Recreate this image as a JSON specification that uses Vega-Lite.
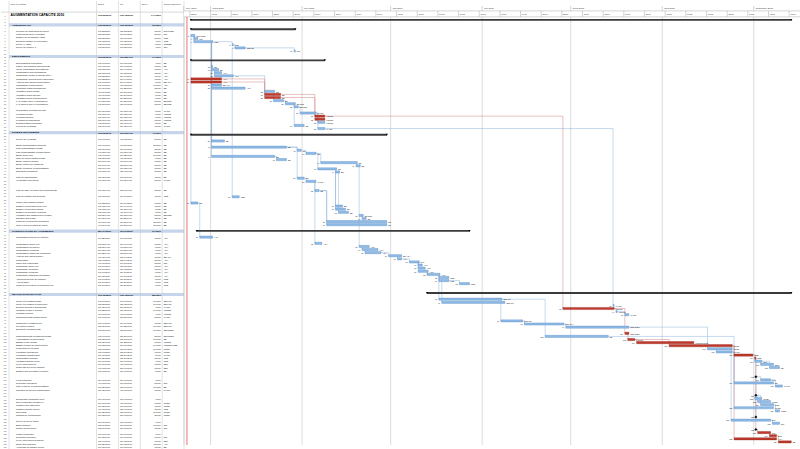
{
 "$schema": "https://vega.github.io/schema/vega-lite/v6.json",
 "padding": 0,
 "spacing": 0,
 "bounds": "flush",
 "background": "white",
 "config": {
  "view": {"stroke": null},
  "font": "Liberation Sans",
  "locale": {"time": {"dateTime": "%A %e %B %Y à %X", "date": "%d/%m/%Y", "time": "%H:%M:%S", "periods": ["AM", "PM"], "days": ["dimanche", "lundi", "mardi", "mercredi", "jeudi", "vendredi", "samedi"], "shortDays": ["Dim", "Lun", "Mar", "Mer", "Jeu", "Ven", "Sam"], "months": ["janvier", "février", "mars", "avril", "mai", "juin", "juillet", "août", "septembre", "octobre", "novembre", "décembre"], "shortMonths": ["janv.", "févr.", "mars", "avr.", "mai", "juin", "juil.", "août", "sept.", "oct.", "nov.", "déc."]}}
 },
 "datasets": {
  "hl": [{"v": -2.92}, {"v": -1}],
  "cols": [{"c": "name"}, {"c": "start"}, {"c": "end"}, {"c": "dur"}, {"c": "res"}, {"c": "edge"}],
  "hdr": [{"c": "name", "t": "Nom de la tâche"}, {"c": "start", "t": "Début"}, {"c": "end", "t": "Fin"}, {"c": "dur", "t": "Durée"}, {"c": "res", "t": "Noms ressources"}],
  "months": [{"m": "2010/02/20", "t": "févr. 2010"}, {"m": "2010/03/01", "t": "mars 2010"}, {"m": "2010/04/01", "t": "avril 2010"}, {"m": "2010/05/01", "t": "mai 2010"}, {"m": "2010/06/01", "t": "juin 2010"}, {"m": "2010/07/01", "t": "juillet 2010"}, {"m": "2010/08/01", "t": "août 2010"}, {"m": "2010/09/01", "t": "septembre 2010"}],
  "weeks": [{"w": "2010/02/22"}, {"w": "2010/03/01"}, {"w": "2010/03/08"}, {"w": "2010/03/15"}, {"w": "2010/03/22"}, {"w": "2010/03/29"}, {"w": "2010/04/05"}, {"w": "2010/04/12"}, {"w": "2010/04/19"}, {"w": "2010/04/26"}, {"w": "2010/05/03"}, {"w": "2010/05/10"}, {"w": "2010/05/17"}, {"w": "2010/05/24"}, {"w": "2010/05/31"}, {"w": "2010/06/07"}, {"w": "2010/06/14"}, {"w": "2010/06/21"}, {"w": "2010/06/28"}, {"w": "2010/07/05"}, {"w": "2010/07/12"}, {"w": "2010/07/19"}, {"w": "2010/07/26"}, {"w": "2010/08/02"}, {"w": "2010/08/09"}, {"w": "2010/08/16"}, {"w": "2010/08/23"}, {"w": "2010/08/30"}, {"w": "2010/09/06"}, {"w": "2010/09/13"}],
  "tasks": [
   {"r": 0, "k": "t", "n": "AUGMENTATION CAPACITE 2010", "s": "2010/02/22 08:00", "e": "2010/09/13 17:00", "d": "147 jours", "res": ""},
   {"r": 1, "k": "b"}, {"r": 2, "k": "b"},
   {"r": 3, "k": "h", "n": "ADMINISTRATIF", "s": "2010/02/22 08:00", "e": "2010/03/29 17:00", "d": "26 jours", "res": ""},
   {"r": 4, "k": "b"},
   {"r": 5, "k": "n", "n": "Réunion de lancement du projet", "s": "2010/02/22 08:00", "e": "2010/02/23 17:00", "d": "2 jours", "res": "DIR;PROD"},
   {"r": 6, "k": "n", "n": "Planning directeur et budget", "s": "2010/02/23 08:00", "e": "2010/02/24 17:00", "d": "2 jours", "res": "DIR", "p": 5},
   {"r": 7, "k": "n", "n": "Dossier de déclaration ICPE", "s": "2010/02/23 08:00", "e": "2010/03/01 17:00", "d": "5 jours", "res": "QSE", "p": 5},
   {"r": 8, "k": "n", "n": "Dépôt du dossier en préfecture", "s": "2010/03/08 08:00", "e": "2010/03/08 17:00", "d": "1 jour", "res": "QSE", "p": 7},
   {"r": 9, "k": "n", "n": "Revue HAZOP", "s": "2010/03/09 08:00", "e": "2010/03/12 17:00", "d": "4 jours", "res": "QSE;BE", "p": 8},
   {"r": 10, "k": "n", "n": "Revue de projet n°1", "s": "2010/03/29 08:00", "e": "2010/03/29 17:00", "d": "1 jour", "res": "DIR", "p": 9},
   {"r": 11, "k": "b"}, {"r": 12, "k": "b"},
   {"r": 13, "k": "h", "n": "EQUIPEMENTS", "s": "2010/02/22 08:00", "e": "2010/04/08 17:00", "d": "34 jours", "res": ""},
   {"r": 14, "k": "b"},
   {"r": 15, "k": "n", "n": "Spécifications techniques", "s": "2010/03/01 08:00", "e": "2010/03/01 17:00", "d": "1 jour", "res": "BE", "p": 7},
   {"r": 16, "k": "n", "n": "Cahier des charges équipements", "s": "2010/03/01 08:00", "e": "2010/03/03 17:00", "d": "3 jours", "res": "BE", "p": 7},
   {"r": 17, "k": "n", "n": "Lot de consultation fournisseurs", "s": "2010/03/02 08:00", "e": "2010/03/04 17:00", "d": "3 jours", "res": "ACH", "p": 16},
   {"r": 18, "k": "n", "n": "Consultation des fournisseurs", "s": "2010/03/02 08:00", "e": "2010/03/08 17:00", "d": "5 jours", "res": "ACH", "p": 17},
   {"r": 19, "k": "c", "n": "Commande presse à injecter 800 t", "s": "2010/02/22 08:00", "e": "2010/03/04 17:00", "d": "9 jours", "res": "ACH"},
   {"r": 20, "k": "c", "n": "Commande moules multi-empreintes", "s": "2010/02/22 08:00", "e": "2010/03/04 17:00", "d": "9 jours", "res": "ACH"},
   {"r": 21, "k": "n", "n": "Analyse des offres périphériques", "s": "2010/03/01 08:00", "e": "2010/03/04 17:00", "d": "4 jours", "res": "BE;ACH", "p": 16},
   {"r": 22, "k": "n", "n": "Commande périphériques", "s": "2010/03/01 08:00", "e": "2010/03/12 17:00", "d": "10 jours", "res": "ACH", "p": 16},
   {"r": 23, "k": "n", "n": "Réception plans fournisseurs", "s": "2010/03/19 08:00", "e": "2010/03/22 17:00", "d": "2 jours", "res": "BE", "p": 18},
   {"r": 24, "k": "c", "n": "Validation plans presse", "s": "2010/03/19 08:00", "e": "2010/03/24 17:00", "d": "4 jours", "res": "BE", "p": 19},
   {"r": 25, "k": "c", "n": "Validation plans moules", "s": "2010/03/19 08:00", "e": "2010/03/24 17:00", "d": "4 jours", "res": "BE", "p": 20},
   {"r": 26, "k": "n", "n": "Validation plans périphériques", "s": "2010/03/22 08:00", "e": "2010/03/25 17:00", "d": "4 jours", "res": "BE", "p": 23},
   {"r": 27, "k": "n", "n": "FAT presse chez le fournisseur", "s": "2010/03/26 08:00", "e": "2010/03/29 17:00", "d": "2 jours", "res": "BE;QSE", "p": 26},
   {"r": 28, "k": "n", "n": "FAT moules chez le fournisseur", "s": "2010/03/29 08:00", "e": "2010/03/30 17:00", "d": "2 jours", "res": "BE;QSE", "p": 27},
   {"r": 29, "k": "b"},
   {"r": 30, "k": "n", "n": "Préparation réception sur site", "s": "2010/03/31 08:00", "e": "2010/04/05 17:00", "d": "4 jours", "res": "MAINT", "p": 28},
   {"r": 31, "k": "c", "n": "Livraison presse", "s": "2010/04/05 08:00", "e": "2010/04/08 17:00", "d": "4 jours", "res": "FOURN", "p": 24},
   {"r": 32, "k": "c", "n": "Livraison moules", "s": "2010/04/05 08:00", "e": "2010/04/08 17:00", "d": "4 jours", "res": "FOURN", "p": 25},
   {"r": 33, "k": "n", "n": "Livraison périphériques", "s": "2010/04/06 08:00", "e": "2010/04/08 17:00", "d": "3 jours", "res": "FOURN", "p": 30},
   {"r": 34, "k": "n", "n": "Documentation technique", "s": "2010/03/29 08:00", "e": "2010/04/01 17:00", "d": "4 jours", "res": "BE", "p": 27},
   {"r": 35, "k": "n", "n": "Pièces de rechange", "s": "2010/04/06 08:00", "e": "2010/04/08 17:00", "d": "3 jours", "res": "MAINT", "p": 30},
   {"r": 36, "k": "b"},
   {"r": 37, "k": "h", "n": "ETUDES TECHNIQUES", "s": "2010/02/22 08:00", "e": "2010/04/29 17:00", "d": "49 jours", "res": ""},
   {"r": 38, "k": "b"},
   {"r": 39, "k": "n", "n": "Relevé de l'existant", "s": "2010/03/01 08:00", "e": "2010/03/05 17:00", "d": "5 jours", "res": "BE", "p": 7},
   {"r": 40, "k": "b"},
   {"r": 41, "k": "n", "n": "Etude d'implantation générale", "s": "2010/03/01 08:00", "e": "2010/03/26 17:00", "d": "20 jours", "res": "BE", "p": 7},
   {"r": 42, "k": "n", "n": "Plan d'implantation presse", "s": "2010/03/30 08:00", "e": "2010/03/31 17:00", "d": "2 jours", "res": "BE", "p": 41},
   {"r": 43, "k": "n", "n": "Plan d'implantation périphériques", "s": "2010/04/02 08:00", "e": "2010/04/05 17:00", "d": "2 jours", "res": "BE", "p": 42},
   {"r": 44, "k": "n", "n": "Etude génie civil", "s": "2010/03/01 08:00", "e": "2010/03/22 17:00", "d": "16 jours", "res": "BE", "p": 7},
   {"r": 45, "k": "n", "n": "Note de calcul massif presse", "s": "2010/03/23 08:00", "e": "2010/03/26 17:00", "d": "4 jours", "res": "BE", "p": 44},
   {"r": 46, "k": "n", "n": "Etude réseaux fluides", "s": "2010/04/07 08:00", "e": "2010/04/19 17:00", "d": "9 jours", "res": "BE", "p": 43},
   {"r": 47, "k": "n", "n": "Etude réseau air comprimé", "s": "2010/04/19 08:00", "e": "2010/04/20 17:00", "d": "2 jours", "res": "BE", "p": 46},
   {"r": 48, "k": "n", "n": "Etude électricité et automatisme", "s": "2010/04/06 08:00", "e": "2010/04/12 17:00", "d": "5 jours", "res": "BE", "p": 43},
   {"r": 49, "k": "n", "n": "Schémas électriques", "s": "2010/04/12 08:00", "e": "2010/04/13 17:00", "d": "2 jours", "res": "BE", "p": 48},
   {"r": 50, "k": "b"},
   {"r": 51, "k": "n", "n": "Plan de manutention", "s": "2010/03/30 08:00", "e": "2010/04/01 17:00", "d": "3 jours", "res": "BE", "p": 41},
   {"r": 52, "k": "n", "n": "Vérification des accès", "s": "2010/04/02 08:00", "e": "2010/04/05 17:00", "d": "2 jours", "res": "MAINT", "p": 51},
   {"r": 53, "k": "b"}, {"r": 54, "k": "b"},
   {"r": 55, "k": "n", "n": "Plan de mise en place des équipements", "s": "2010/04/05 08:00", "e": "2010/04/06 17:00", "d": "2 jours", "res": "BE", "p": 52},
   {"r": 56, "k": "b"},
   {"r": 57, "k": "n", "n": "Plan de gestion des déchets", "s": "2010/03/08 08:00", "e": "2010/03/10 17:00", "d": "3 jours", "res": "QSE", "p": 9},
   {"r": 58, "k": "b"},
   {"r": 59, "k": "n", "n": "Cahier des charges études", "s": "2010/02/22 08:00", "e": "2010/02/24 17:00", "d": "3 jours", "res": "BE", "p": 5},
   {"r": 60, "k": "n", "n": "Dossier d'exécution génie civil", "s": "2010/04/12 08:00", "e": "2010/04/14 17:00", "d": "3 jours", "res": "BE", "p": 49},
   {"r": 61, "k": "n", "n": "Dossier d'exécution fluides", "s": "2010/04/12 08:00", "e": "2010/04/15 17:00", "d": "4 jours", "res": "BE", "p": 49},
   {"r": 62, "k": "n", "n": "Dossier d'exécution électricité", "s": "2010/04/13 08:00", "e": "2010/04/16 17:00", "d": "4 jours", "res": "BE", "p": 49},
   {"r": 63, "k": "n", "n": "Validation des dossiers d'exécution", "s": "2010/04/20 08:00", "e": "2010/04/21 17:00", "d": "2 jours", "res": "BE;QSE", "p": 47},
   {"r": 64, "k": "n", "n": "Diffusion des plans", "s": "2010/04/21 08:00", "e": "2010/04/22 17:00", "d": "2 jours", "res": "BE", "p": 63},
   {"r": 65, "k": "n", "n": "Plans de récolement provisoires", "s": "2010/04/09 08:00", "e": "2010/04/29 17:00", "d": "15 jours", "res": "BE", "p": 55},
   {"r": 66, "k": "n", "n": "Mise à jour des notes de calcul", "s": "2010/04/09 08:00", "e": "2010/04/29 17:00", "d": "15 jours", "res": "BE", "p": 55},
   {"r": 67, "k": "b"},
   {"r": 68, "k": "h", "n": "CONSULTATIONS ET AGREMENTS", "s": "2010/02/24 08:00", "e": "2010/05/27 17:00", "d": "67 jours", "res": ""},
   {"r": 69, "k": "b"},
   {"r": 70, "k": "n", "n": "Consultation bureau de contrôle", "s": "2010/02/25 08:00", "e": "2010/03/01 17:00", "d": "3 jours", "res": "ACH", "p": 59},
   {"r": 71, "k": "b"},
   {"r": 72, "k": "n", "n": "Consultation génie civil", "s": "2010/04/05 08:00", "e": "2010/04/07 17:00", "d": "3 jours", "res": "ACH", "p": 52},
   {"r": 73, "k": "n", "n": "Consultation tuyauterie", "s": "2010/04/20 08:00", "e": "2010/04/23 17:00", "d": "4 jours", "res": "ACH", "p": 63},
   {"r": 74, "k": "n", "n": "Consultation électricité", "s": "2010/04/21 08:00", "e": "2010/04/26 17:00", "d": "4 jours", "res": "ACH", "p": 73},
   {"r": 75, "k": "n", "n": "Consultation charpente métallique", "s": "2010/04/22 08:00", "e": "2010/04/27 17:00", "d": "4 jours", "res": "ACH", "p": 74},
   {"r": 76, "k": "n", "n": "Analyse des offres travaux", "s": "2010/04/30 08:00", "e": "2010/05/04 17:00", "d": "3 jours", "res": "BE;ACH", "p": 75},
   {"r": 77, "k": "n", "n": "Négociation", "s": "2010/05/03 08:00", "e": "2010/05/04 17:00", "d": "2 jours", "res": "ACH", "p": 76},
   {"r": 78, "k": "n", "n": "Choix des entreprises", "s": "2010/05/07 08:00", "e": "2010/05/10 17:00", "d": "2 jours", "res": "DIR", "p": 77},
   {"r": 79, "k": "n", "n": "Commande génie civil", "s": "2010/05/10 08:00", "e": "2010/05/11 17:00", "d": "2 jours", "res": "ACH", "p": 78},
   {"r": 80, "k": "n", "n": "Commande tuyauterie", "s": "2010/05/10 08:00", "e": "2010/05/12 17:00", "d": "3 jours", "res": "ACH", "p": 78},
   {"r": 81, "k": "n", "n": "Commande électricité", "s": "2010/05/10 08:00", "e": "2010/05/13 17:00", "d": "4 jours", "res": "ACH", "p": 78},
   {"r": 82, "k": "n", "n": "Commande charpente métallique", "s": "2010/05/13 08:00", "e": "2010/05/17 17:00", "d": "3 jours", "res": "ACH", "p": 81},
   {"r": 83, "k": "n", "n": "Agrément bureau de contrôle", "s": "2010/05/17 08:00", "e": "2010/05/20 17:00", "d": "4 jours", "res": "QSE", "p": 82},
   {"r": 84, "k": "n", "n": "Avis CHSCT", "s": "2010/05/17 08:00", "e": "2010/05/20 17:00", "d": "4 jours", "res": "QSE", "p": 82},
   {"r": 85, "k": "n", "n": "Plans de prévention et permis de feu", "s": "2010/05/24 08:00", "e": "2010/05/27 17:00", "d": "4 jours", "res": "QSE", "p": 84},
   {"r": 86, "k": "b"}, {"r": 87, "k": "b"},
   {"r": 88, "k": "h", "n": "REALISATION TRAVAUX", "s": "2010/05/13 08:00", "e": "2010/09/13 17:00", "d": "88 jours", "res": ""},
   {"r": 89, "k": "b"},
   {"r": 90, "k": "n", "n": "Génie civil massif presse", "s": "2010/05/17 08:00", "e": "2010/06/07 17:00", "d": "16 jours", "res": "ENT GC", "p": 83},
   {"r": 91, "k": "n", "n": "Génie civil fosses et caniveaux", "s": "2010/05/18 08:00", "e": "2010/06/08 17:00", "d": "16 jours", "res": "ENT GC", "p": 84},
   {"r": 92, "k": "n", "n": "Dépose anciens équipements", "s": "2010/07/15 08:00", "e": "2010/07/15 17:00", "d": "1 jour", "res": "MAINT", "p": 35},
   {"r": 93, "k": "c", "n": "Montage presse à injecter", "s": "2010/06/28 08:00", "e": "2010/07/15 17:00", "d": "14 jours", "res": "FOURN", "p": 31},
   {"r": 94, "k": "n", "n": "Montage moules", "s": "2010/07/16 08:00", "e": "2010/07/16 17:00", "d": "1 jour", "res": "FOURN", "p": 93},
   {"r": 95, "k": "n", "n": "Raccordements périphériques", "s": "2010/07/19 08:00", "e": "2010/07/20 17:00", "d": "2 jours", "res": "MAINT", "p": 94},
   {"r": 96, "k": "b"},
   {"r": 97, "k": "n", "n": "Charpente et passerelles", "s": "2010/06/07 08:00", "e": "2010/06/14 17:00", "d": "6 jours", "res": "ENT CM", "p": 90},
   {"r": 98, "k": "n", "n": "Tuyauterie fluides", "s": "2010/06/15 08:00", "e": "2010/06/28 17:00", "d": "10 jours", "res": "ENT TUY", "p": 97},
   {"r": 99, "k": "n", "n": "Electricité courants forts", "s": "2010/06/29 08:00", "e": "2010/07/20 17:00", "d": "16 jours", "res": "ENT ELEC", "p": 98},
   {"r": 100, "k": "b"},
   {"r": 101, "k": "c", "n": "Raccordements électriques presse", "s": "2010/07/19 08:00", "e": "2010/07/20 17:00", "d": "2 jours", "res": "ENT ELEC", "p": 93},
   {"r": 102, "k": "n", "n": "Automatisme et supervision", "s": "2010/06/22 08:00", "e": "2010/07/13 17:00", "d": "16 jours", "res": "BE", "p": 90},
   {"r": 103, "k": "c", "n": "Essais à vide presse", "s": "2010/07/20 08:00", "e": "2010/07/22 17:00", "d": "3 jours", "res": "FOURN", "p": 101},
   {"r": 104, "k": "c", "n": "Essais et mise au point moules", "s": "2010/07/23 08:00", "e": "2010/08/11 17:00", "d": "14 jours", "res": "FOURN;PROD", "p": 103},
   {"r": 105, "k": "c", "n": "Production de présérie", "s": "2010/08/03 08:00", "e": "2010/08/24 17:00", "d": "16 jours", "res": "PROD", "p": 103},
   {"r": 106, "k": "n", "n": "Formation opérateurs", "s": "2010/08/16 08:00", "e": "2010/08/24 17:00", "d": "7 jours", "res": "PROD", "p": 99},
   {"r": 107, "k": "n", "n": "Formation maintenance", "s": "2010/08/19 08:00", "e": "2010/08/24 17:00", "d": "4 jours", "res": "MAINT", "p": 106},
   {"r": 108, "k": "c", "n": "Qualification process", "s": "2010/08/25 08:00", "e": "2010/08/31 17:00", "d": "5 jours", "res": "QSE", "p": 105},
   {"r": 109, "k": "c", "n": "Validation qualité client", "s": "2010/09/01 08:00", "e": "2010/09/01 17:00", "d": "1 jour", "res": "QSE", "p": 108},
   {"r": 110, "k": "n", "n": "Levée des réserves", "s": "2010/09/01 08:00", "e": "2010/09/03 17:00", "d": "3 jours", "res": "ENT", "p": 109},
   {"r": 111, "k": "n", "n": "Nettoyage de fin de chantier", "s": "2010/09/03 08:00", "e": "2010/09/07 17:00", "d": "3 jours", "res": "ENT", "p": 110},
   {"r": 112, "k": "n", "n": "Dossier des ouvrages exécutés", "s": "2010/09/06 08:00", "e": "2010/09/09 17:00", "d": "4 jours", "res": "BE", "p": 110},
   {"r": 113, "k": "b"}, {"r": 114, "k": "b"},
   {"r": 115, "k": "m", "n": "Fin des travaux", "s": "2010/09/01 17:00", "e": "2010/09/01 17:00", "d": "0 jour", "res": "", "p": 108},
   {"r": 116, "k": "n", "n": "Réception provisoire", "s": "2010/09/03 08:00", "e": "2010/09/06 17:00", "d": "2 jours", "res": "DIR", "p": 115},
   {"r": 117, "k": "n", "n": "Mise à jour de la documentation", "s": "2010/08/25 08:00", "e": "2010/09/07 17:00", "d": "10 jours", "res": "BE", "p": 102},
   {"r": 118, "k": "n", "n": "Transfert au service maintenance", "s": "2010/09/08 08:00", "e": "2010/09/10 17:00", "d": "3 jours", "res": "MAINT", "p": 116},
   {"r": 119, "k": "b"}, {"r": 120, "k": "b"},
   {"r": 121, "k": "m", "n": "Démarrage production série", "s": "2010/09/01 17:00", "e": "2010/09/01 17:00", "d": "0 jour", "res": "", "p": 115},
   {"r": 122, "k": "n", "n": "Suivi production semaine 1", "s": "2010/09/01 08:00", "e": "2010/09/03 17:00", "d": "3 jours", "res": "PROD", "p": 121},
   {"r": 123, "k": "n", "n": "Contrôle des cadences", "s": "2010/09/02 08:00", "e": "2010/09/06 17:00", "d": "3 jours", "res": "PROD", "p": 121},
   {"r": 124, "k": "n", "n": "Contrôle qualité pièces", "s": "2010/09/03 08:00", "e": "2010/09/07 17:00", "d": "3 jours", "res": "QSE", "p": 121},
   {"r": 125, "k": "n", "n": "Suivi TRS", "s": "2010/08/25 08:00", "e": "2010/09/07 17:00", "d": "10 jours", "res": "PROD", "p": 107},
   {"r": 126, "k": "n", "n": "Rapport de performance", "s": "2010/09/08 08:00", "e": "2010/09/09 17:00", "d": "2 jours", "res": "PROD", "p": 124},
   {"r": 127, "k": "b"},
   {"r": 128, "k": "m", "n": "Revue de fin de projet", "s": "2010/09/01 17:00", "e": "2010/09/01 17:00", "d": "0 jour", "res": "", "p": 121},
   {"r": 129, "k": "n", "n": "Bilan financier", "s": "2010/08/24 08:00", "e": "2010/09/06 17:00", "d": "10 jours", "res": "DIR", "p": 105},
   {"r": 130, "k": "n", "n": "Retour d'expérience", "s": "2010/09/07 08:00", "e": "2010/09/09 17:00", "d": "3 jours", "res": "DIR", "p": 129},
   {"r": 131, "k": "b"},
   {"r": 132, "k": "cm", "n": "Clôture technique", "s": "2010/09/01 17:00", "e": "2010/09/01 17:00", "d": "0 jour", "res": "", "p": 109},
   {"r": 133, "k": "c", "n": "Réception définitive", "s": "2010/09/02 08:00", "e": "2010/09/06 17:00", "d": "3 jours", "res": "DIR", "p": 132},
   {"r": 134, "k": "c", "n": "Levée des réserves finales", "s": "2010/09/06 08:00", "e": "2010/09/08 17:00", "d": "3 jours", "res": "ENT", "p": 133},
   {"r": 135, "k": "c", "n": "Solde des marchés", "s": "2010/08/25 08:00", "e": "2010/09/08 17:00", "d": "11 jours", "res": "ACH", "p": 105},
   {"r": 136, "k": "c", "n": "Archivage du dossier projet", "s": "2010/09/09 08:00", "e": "2010/09/13 17:00", "d": "3 jours", "res": "BE", "p": 134}
  ]
 },
 "hconcat": [
  {
   "width": 8, "height": 449,
   "layer": [
    {"data": {"name": "hl"}, "transform": [{"filter": "datum.v == -1"}], "mark": {"type": "rule", "color": "#b0b0b0", "strokeWidth": 0.5},
     "encoding": {"y": {"field": "v", "type": "quantitative", "scale": {"domain": [-4.5, 137], "reverse": true, "nice": false, "zero": false}, "axis": null}}},
    {"data": {"name": "tasks"}, "mark": {"type": "text", "fontSize": 1.9, "color": "#555", "align": "center", "baseline": "middle"},
     "encoding": {"y": {"field": "r", "type": "quantitative", "scale": {"domain": [-4.5, 137], "reverse": true, "nice": false, "zero": false}, "axis": null}, "text": {"field": "r", "type": "nominal"}}}
   ]
  },
  {
   "width": 175, "height": 449,
   "layer": [
    {"data": {"name": "tasks"}, "transform": [{"filter": "datum.k == 'h'"}], "mark": {"type": "rule", "color": "#c6d5ea", "strokeWidth": 3.17},
     "encoding": {"y": {"field": "r", "type": "quantitative", "scale": {"domain": [-4.5, 137], "reverse": true, "nice": false, "zero": false}, "axis": null}}},
    {"data": {"name": "hl"}, "transform": [{"filter": "datum.v == -1"}], "mark": {"type": "rule", "color": "#b0b0b0", "strokeWidth": 0.5},
     "encoding": {"y": {"field": "v", "type": "quantitative", "scale": {"domain": [-4.5, 137], "reverse": true, "nice": false, "zero": false}, "axis": null}}},
    {"data": {"name": "cols"}, "mark": {"type": "rule", "color": "#c4c4c4", "strokeWidth": 0.5},
     "encoding": {"x": {"field": "c", "type": "nominal", "scale": {"type": "point", "domain": ["name", "n1", "n2", "n3", "start", "end", "dur", "res", "edge"], "padding": 0}, "axis": null}}},
    {"data": {"name": "hdr"}, "mark": {"type": "text", "fontSize": 2.2, "color": "#333", "align": "left", "baseline": "middle", "dx": 1.5},
     "encoding": {"x": {"field": "c", "type": "nominal", "scale": {"type": "point", "domain": ["name", "n1", "n2", "n3", "start", "end", "dur", "res", "edge"], "padding": 0}, "axis": null},
      "y": {"datum": -3.6, "type": "quantitative", "scale": {"domain": [-4.5, 137], "reverse": true, "nice": false, "zero": false}, "axis": null}, "text": {"field": "t"}}},
    {"data": {"name": "tasks"}, "transform": [{"filter": "datum.k == 't'"}], "mark": {"type": "text", "fontSize": 3.4, "fontWeight": "bold", "color": "#000", "align": "left", "baseline": "middle", "dx": 1.5},
     "encoding": {"x": {"datum": "name", "type": "nominal", "scale": {"type": "point", "domain": ["name", "n1", "n2", "n3", "start", "end", "dur", "res", "edge"], "padding": 0}, "axis": null},
      "y": {"field": "r", "type": "quantitative", "scale": {"domain": [-4.5, 137], "reverse": true, "nice": false, "zero": false}, "axis": null}, "text": {"field": "n"}}},
    {"data": {"name": "tasks"}, "transform": [{"filter": "datum.k == 'h'"}], "mark": {"type": "text", "fontSize": 2.5, "fontWeight": "bold", "color": "#000", "align": "left", "baseline": "middle", "dx": 3},
     "encoding": {"x": {"datum": "name", "type": "nominal", "scale": {"type": "point", "domain": ["name", "n1", "n2", "n3", "start", "end", "dur", "res", "edge"], "padding": 0}, "axis": null},
      "y": {"field": "r", "type": "quantitative", "scale": {"domain": [-4.5, 137], "reverse": true, "nice": false, "zero": false}, "axis": null}, "text": {"field": "n"}}},
    {"data": {"name": "tasks"}, "transform": [{"filter": "indexof(['n','c','m','cm'], datum.k) >= 0"}], "mark": {"type": "text", "fontSize": 2.3, "color": "#111", "align": "left", "baseline": "middle", "dx": 7},
     "encoding": {"x": {"datum": "name", "type": "nominal", "scale": {"type": "point", "domain": ["name", "n1", "n2", "n3", "start", "end", "dur", "res", "edge"], "padding": 0}, "axis": null},
      "y": {"field": "r", "type": "quantitative", "scale": {"domain": [-4.5, 137], "reverse": true, "nice": false, "zero": false}, "axis": null}, "text": {"field": "n"}}},
    {"data": {"name": "tasks"}, "transform": [{"filter": "indexof(['n','c','m','cm'], datum.k) >= 0"}], "mark": {"type": "text", "fontSize": 2.1, "color": "#111", "align": "left", "baseline": "middle", "dx": 1.5},
     "encoding": {"x": {"datum": "start", "type": "nominal", "scale": {"type": "point", "domain": ["name", "n1", "n2", "n3", "start", "end", "dur", "res", "edge"], "padding": 0}, "axis": null},
      "y": {"field": "r", "type": "quantitative", "scale": {"domain": [-4.5, 137], "reverse": true, "nice": false, "zero": false}, "axis": null}, "text": {"field": "s", "type": "temporal", "format": "%a %d/%m/%y"}}},
    {"data": {"name": "tasks"}, "transform": [{"filter": "datum.k == 't' || datum.k == 'h'"}], "mark": {"type": "text", "fontSize": 2.2, "fontWeight": "bold", "color": "#000", "align": "left", "baseline": "middle", "dx": 1.5},
     "encoding": {"x": {"datum": "start", "type": "nominal", "scale": {"type": "point", "domain": ["name", "n1", "n2", "n3", "start", "end", "dur", "res", "edge"], "padding": 0}, "axis": null},
      "y": {"field": "r", "type": "quantitative", "scale": {"domain": [-4.5, 137], "reverse": true, "nice": false, "zero": false}, "axis": null}, "text": {"field": "s", "type": "temporal", "format": "%a %d/%m/%y"}}},
    {"data": {"name": "tasks"}, "transform": [{"filter": "indexof(['n','c','m','cm'], datum.k) >= 0"}], "mark": {"type": "text", "fontSize": 2.1, "color": "#111", "align": "left", "baseline": "middle", "dx": 1.5},
     "encoding": {"x": {"datum": "end", "type": "nominal", "scale": {"type": "point", "domain": ["name", "n1", "n2", "n3", "start", "end", "dur", "res", "edge"], "padding": 0}, "axis": null},
      "y": {"field": "r", "type": "quantitative", "scale": {"domain": [-4.5, 137], "reverse": true, "nice": false, "zero": false}, "axis": null}, "text": {"field": "e", "type": "temporal", "format": "%a %d/%m/%y"}}},
    {"data": {"name": "tasks"}, "transform": [{"filter": "datum.k == 't' || datum.k == 'h'"}], "mark": {"type": "text", "fontSize": 2.2, "fontWeight": "bold", "color": "#000", "align": "left", "baseline": "middle", "dx": 1.5},
     "encoding": {"x": {"datum": "end", "type": "nominal", "scale": {"type": "point", "domain": ["name", "n1", "n2", "n3", "start", "end", "dur", "res", "edge"], "padding": 0}, "axis": null},
      "y": {"field": "r", "type": "quantitative", "scale": {"domain": [-4.5, 137], "reverse": true, "nice": false, "zero": false}, "axis": null}, "text": {"field": "e", "type": "temporal", "format": "%a %d/%m/%y"}}},
    {"data": {"name": "tasks"}, "transform": [{"filter": "indexof(['n','c','m','cm'], datum.k) >= 0"}], "mark": {"type": "text", "fontSize": 2.1, "color": "#111", "align": "right", "baseline": "middle", "dx": -1.5},
     "encoding": {"x": {"datum": "res", "type": "nominal", "scale": {"type": "point", "domain": ["name", "n1", "n2", "n3", "start", "end", "dur", "res", "edge"], "padding": 0}, "axis": null},
      "y": {"field": "r", "type": "quantitative", "scale": {"domain": [-4.5, 137], "reverse": true, "nice": false, "zero": false}, "axis": null}, "text": {"field": "d"}}},
    {"data": {"name": "tasks"}, "transform": [{"filter": "datum.k == 't' || datum.k == 'h'"}], "mark": {"type": "text", "fontSize": 2.2, "fontWeight": "bold", "color": "#000", "align": "right", "baseline": "middle", "dx": -1.5},
     "encoding": {"x": {"datum": "res", "type": "nominal", "scale": {"type": "point", "domain": ["name", "n1", "n2", "n3", "start", "end", "dur", "res", "edge"], "padding": 0}, "axis": null},
      "y": {"field": "r", "type": "quantitative", "scale": {"domain": [-4.5, 137], "reverse": true, "nice": false, "zero": false}, "axis": null}, "text": {"field": "d"}}},
    {"data": {"name": "tasks"}, "transform": [{"filter": "indexof(['n','c'], datum.k) >= 0"}], "mark": {"type": "text", "fontSize": 2.1, "color": "#111", "align": "left", "baseline": "middle", "dx": 1.5},
     "encoding": {"x": {"datum": "res", "type": "nominal", "scale": {"type": "point", "domain": ["name", "n1", "n2", "n3", "start", "end", "dur", "res", "edge"], "padding": 0}, "axis": null},
      "y": {"field": "r", "type": "quantitative", "scale": {"domain": [-4.5, 137], "reverse": true, "nice": false, "zero": false}, "axis": null}, "text": {"field": "res"}}}
   ]
  },
  {
   "width": 617, "height": 449,
   "layer": [
    {"data": {"name": "months"}, "mark": {"type": "rule", "color": "#b8b8b8", "strokeWidth": 0.5},
     "encoding": {"x": {"field": "m", "type": "temporal", "scale": {"domain": [{"year": 2010, "month": 2, "date": 20}, {"year": 2010, "month": 9, "date": 17}], "nice": false},
       "axis": {"orient": "top", "grid": true, "labels": false, "ticks": false, "domain": false, "title": null, "tickCount": {"interval": "day", "step": 2}, "gridColor": "#b4b4b4", "gridDash": [0.8, 1.2], "gridWidth": 0.6}},
      "y": {"datum": -4.5, "type": "quantitative", "scale": {"domain": [-4.5, 137], "reverse": true, "nice": false, "zero": false}, "axis": null}, "y2": {"datum": 137}}},
    {"data": {"name": "hl"}, "transform": [{"filter": "datum.v == -1"}], "mark": {"type": "rule", "color": "#ffffff", "strokeWidth": 11.2},
     "encoding": {"y": {"datum": -2.75, "type": "quantitative", "scale": {"domain": [-4.5, 137], "reverse": true, "nice": false, "zero": false}, "axis": null}}},
    {"data": {"name": "hl"}, "mark": {"type": "rule", "color": "#a8a8a8", "strokeWidth": 0.5},
     "encoding": {"y": {"field": "v", "type": "quantitative", "scale": {"domain": [-4.5, 137], "reverse": true, "nice": false, "zero": false}, "axis": null}}},
    {"data": {"name": "months"}, "mark": {"type": "rule", "color": "#a8a8a8", "strokeWidth": 0.5},
     "encoding": {"x": {"field": "m", "type": "temporal", "scale": {"domain": [{"year": 2010, "month": 2, "date": 20}, {"year": 2010, "month": 9, "date": 17}], "nice": false}, "axis": null},
      "y": {"datum": -4.5, "type": "quantitative", "scale": {"domain": [-4.5, 137], "reverse": true, "nice": false, "zero": false}, "axis": null}, "y2": {"datum": -2.92}}},
    {"data": {"name": "months"}, "mark": {"type": "text", "fontSize": 2.4, "color": "#333", "align": "left", "baseline": "middle", "dx": 2},
     "encoding": {"x": {"field": "m", "type": "temporal", "scale": {"domain": [{"year": 2010, "month": 2, "date": 20}, {"year": 2010, "month": 9, "date": 17}], "nice": false}, "axis": null},
      "y": {"datum": -3.7, "type": "quantitative", "scale": {"domain": [-4.5, 137], "reverse": true, "nice": false, "zero": false}, "axis": null}, "text": {"field": "t"}}},
    {"data": {"name": "weeks"}, "mark": {"type": "rule", "color": "#a8a8a8", "strokeWidth": 0.5},
     "encoding": {"x": {"field": "w", "type": "temporal", "scale": {"domain": [{"year": 2010, "month": 2, "date": 20}, {"year": 2010, "month": 9, "date": 17}], "nice": false}, "axis": null},
      "y": {"datum": -2.92, "type": "quantitative", "scale": {"domain": [-4.5, 137], "reverse": true, "nice": false, "zero": false}, "axis": null}, "y2": {"datum": -1}}},
    {"data": {"name": "weeks"}, "mark": {"type": "text", "fontSize": 2.1, "color": "#333", "align": "left", "baseline": "middle", "dx": 1.2},
     "encoding": {"x": {"field": "w", "type": "temporal", "scale": {"domain": [{"year": 2010, "month": 2, "date": 20}, {"year": 2010, "month": 9, "date": 17}], "nice": false}, "axis": null},
      "y": {"datum": -1.95, "type": "quantitative", "scale": {"domain": [-4.5, 137], "reverse": true, "nice": false, "zero": false}, "axis": null}, "text": {"field": "w", "type": "temporal", "format": "%d/%m"}}},
    {"data": {"name": "tasks"}, "transform": [{"filter": "datum.p != null"}, {"lookup": "p", "from": {"data": {"name": "tasks"}, "key": "r", "fields": ["r", "e"]}, "as": ["pr", "pe"]}],
     "mark": {"type": "rule", "strokeWidth": 0.5},
     "encoding": {"x": {"field": "pe", "type": "temporal", "scale": {"domain": [{"year": 2010, "month": 2, "date": 20}, {"year": 2010, "month": 9, "date": 17}], "nice": false}, "axis": null}, "x2": {"field": "s"},
      "y": {"field": "pr", "type": "quantitative", "scale": {"domain": [-4.5, 137], "reverse": true, "nice": false, "zero": false}, "axis": null},
      "color": {"condition": {"test": "datum.k == 'c' || datum.k == 'cm'", "value": "#d58080"}, "value": "#8db4dc"}}},
    {"data": {"name": "tasks"}, "transform": [{"filter": "datum.p != null"}, {"lookup": "p", "from": {"data": {"name": "tasks"}, "key": "r", "fields": ["r", "e"]}, "as": ["pr", "pe"]}],
     "mark": {"type": "rule", "strokeWidth": 0.5},
     "encoding": {"x": {"field": "s", "type": "temporal", "scale": {"domain": [{"year": 2010, "month": 2, "date": 20}, {"year": 2010, "month": 9, "date": 17}], "nice": false}, "axis": null},
      "y": {"field": "pr", "type": "quantitative", "scale": {"domain": [-4.5, 137], "reverse": true, "nice": false, "zero": false}, "axis": null}, "y2": {"field": "r"},
      "color": {"condition": {"test": "datum.k == 'c' || datum.k == 'cm'", "value": "#d58080"}, "value": "#8db4dc"}}},
    {"data": {"name": "tasks"}, "transform": [{"filter": "datum.k == 't' || datum.k == 'h'"}], "mark": {"type": "bar", "height": 1.8, "color": "#3a3a3a"},
     "encoding": {"x": {"field": "s", "type": "temporal", "scale": {"domain": [{"year": 2010, "month": 2, "date": 20}, {"year": 2010, "month": 9, "date": 17}], "nice": false}, "axis": null}, "x2": {"field": "e"},
      "y": {"field": "r", "type": "quantitative", "scale": {"domain": [-4.5, 137], "reverse": true, "nice": false, "zero": false}, "axis": null}}},
    {"data": {"name": "tasks"}, "transform": [{"filter": "datum.k == 't' || datum.k == 'h'"}], "mark": {"type": "point", "shape": "triangle-down", "size": 5, "filled": true, "color": "#000", "opacity": 1},
     "encoding": {"x": {"field": "s", "type": "temporal", "scale": {"domain": [{"year": 2010, "month": 2, "date": 20}, {"year": 2010, "month": 9, "date": 17}], "nice": false}, "axis": null},
      "y": {"field": "r", "type": "quantitative", "scale": {"domain": [-4.5, 137], "reverse": true, "nice": false, "zero": false}, "axis": null}}},
    {"data": {"name": "tasks"}, "transform": [{"filter": "datum.k == 't' || datum.k == 'h'"}], "mark": {"type": "point", "shape": "triangle-down", "size": 5, "filled": true, "color": "#000", "opacity": 1},
     "encoding": {"x": {"field": "e", "type": "temporal", "scale": {"domain": [{"year": 2010, "month": 2, "date": 20}, {"year": 2010, "month": 9, "date": 17}], "nice": false}, "axis": null},
      "y": {"field": "r", "type": "quantitative", "scale": {"domain": [-4.5, 137], "reverse": true, "nice": false, "zero": false}, "axis": null}}},
    {"data": {"name": "tasks"}, "transform": [{"filter": "datum.k == 'n' || datum.k == 'c'"}], "mark": {"type": "bar", "height": 2.2, "strokeWidth": 0.35},
     "encoding": {"x": {"field": "s", "type": "temporal", "scale": {"domain": [{"year": 2010, "month": 2, "date": 20}, {"year": 2010, "month": 9, "date": 17}], "nice": false}, "axis": null}, "x2": {"field": "e"},
      "y": {"field": "r", "type": "quantitative", "scale": {"domain": [-4.5, 137], "reverse": true, "nice": false, "zero": false}, "axis": null},
      "color": {"condition": {"test": "datum.k == 'c'", "value": "#c0392b"}, "value": "#8fbbe6"},
      "stroke": {"condition": {"test": "datum.k == 'c'", "value": "#8e1f17"}, "value": "#4d86c2"}}},
    {"data": {"name": "tasks"}, "transform": [{"filter": "datum.k == 'm' || datum.k == 'cm'"}], "mark": {"type": "point", "shape": "diamond", "size": 9, "filled": true, "color": "#111", "opacity": 1},
     "encoding": {"x": {"field": "s", "type": "temporal", "scale": {"domain": [{"year": 2010, "month": 2, "date": 20}, {"year": 2010, "month": 9, "date": 17}], "nice": false}, "axis": null},
      "y": {"field": "r", "type": "quantitative", "scale": {"domain": [-4.5, 137], "reverse": true, "nice": false, "zero": false}, "axis": null}}},
    {"data": {"name": "tasks"}, "transform": [{"filter": "indexof(['n','c','m','cm'], datum.k) >= 0"}], "mark": {"type": "text", "fontSize": 1.9, "color": "#222", "align": "right", "baseline": "middle", "dx": -1.8},
     "encoding": {"x": {"field": "s", "type": "temporal", "scale": {"domain": [{"year": 2010, "month": 2, "date": 20}, {"year": 2010, "month": 9, "date": 17}], "nice": false}, "axis": null},
      "y": {"field": "r", "type": "quantitative", "scale": {"domain": [-4.5, 137], "reverse": true, "nice": false, "zero": false}, "axis": null}, "text": {"field": "r", "type": "nominal"}}},
    {"data": {"name": "tasks"}, "transform": [{"filter": "datum.k == 'n' || datum.k == 'c'"}], "mark": {"type": "text", "fontSize": 1.9, "color": "#222", "align": "left", "baseline": "middle", "dx": 1.5},
     "encoding": {"x": {"field": "e", "type": "temporal", "scale": {"domain": [{"year": 2010, "month": 2, "date": 20}, {"year": 2010, "month": 9, "date": 17}], "nice": false}, "axis": null},
      "y": {"field": "r", "type": "quantitative", "scale": {"domain": [-4.5, 137], "reverse": true, "nice": false, "zero": false}, "axis": null}, "text": {"field": "res"}}},
    {"data": {"name": "hl"}, "transform": [{"filter": "datum.v == -1"}], "mark": {"type": "rule", "color": "#e05252", "strokeWidth": 0.8},
     "encoding": {"x": {"datum": {"year": 2010, "month": 2, "date": 21}, "type": "temporal", "scale": {"domain": [{"year": 2010, "month": 2, "date": 20}, {"year": 2010, "month": 9, "date": 17}], "nice": false}, "axis": null},
      "y": {"datum": -1, "type": "quantitative", "scale": {"domain": [-4.5, 137], "reverse": true, "nice": false, "zero": false}, "axis": null}, "y2": {"datum": 137}}}
   ]
  }
 ]
}
